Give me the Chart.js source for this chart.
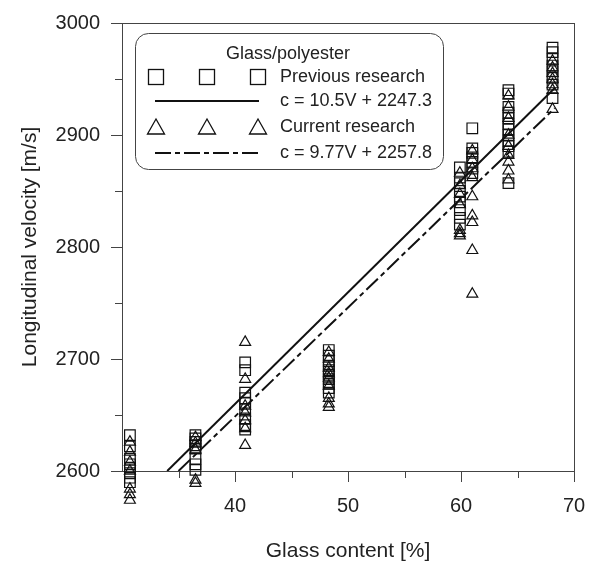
<!DOCTYPE html>
<html>
<head>
<meta charset="utf-8">
<script src="https://cdn.jsdelivr.net/npm/chart.js@4.4.1/dist/chart.umd.min.js"></script>
<style>
  html, body { margin: 0; padding: 0; background: #fff; }
  #wrap { width: 598px; height: 562px; position: relative; }
</style>
</head>
<body>
<div id="wrap"><canvas id="myChart"></canvas></div>
<script>
// glass content of each batch [%]
const clusterX = [30.7, 36.5, 40.9, 48.3, 59.9, 61.0, 64.2, 68.1];

// previous research, velocities per batch [m/s]
const prevVelocity = [
    [2632, 2622, 2611, 2606, 2603, 2598, 2594, 2590],
    [2632, 2629, 2626, 2623, 2620, 2611, 2606, 2601],
    [2697, 2690, 2670, 2665, 2661, 2655, 2647, 2641, 2637],
    [2708, 2703, 2698, 2694, 2690, 2686, 2682, 2678, 2674, 2670],
    [2871, 2862, 2857, 2850, 2845, 2840, 2833, 2826, 2820],
    [2906, 2888, 2884, 2880, 2876, 2870, 2866],
    [2940, 2937, 2925, 2920, 2915, 2910, 2905, 2900, 2895, 2890, 2885, 2857],
    [2978, 2974, 2968, 2962, 2957, 2951, 2945, 2933]
];

// current research
const currVelocity = [
    [2626, 2617, 2608, 2600, 2584, 2579, 2574],
    [2630, 2625, 2619, 2592, 2589],
    [2715, 2682, 2658, 2652, 2645, 2638, 2623],
    [2706, 2700, 2692, 2687, 2683, 2676, 2665, 2660, 2657],
    [2866, 2855, 2847, 2838, 2815, 2812, 2810],
    [2886, 2878, 2870, 2862, 2845, 2828, 2822, 2797, 2758],
    [2935, 2925, 2915, 2900, 2890, 2882, 2876, 2868, 2860],
    [2966, 2960, 2955, 2950, 2945, 2940, 2923]
];

// fitted lines as drawn (end points)
const prevFitX = [34.0, 68.3];
const prevFitY = [2600, 2942];
const currFitX = [35.0, 68.3];
const currFitY = [2600, 2924];

const xTicks = [30, 40, 50, 60, 70];
const yTicks = [2600, 2700, 2800, 2900, 3000];

const legendTitle = 'Glass/polyester';
const legendLabels = ['Previous research', 'c = 10.5V + 2247.3', 'Current research', 'c = 9.77V + 2257.8'];

const FONT = "'Liberation Sans', Arial, sans-serif";
const INK = '#222';

function toPoints(xs, groups) {
    let pts = [];
    groups.forEach(function(g, i) {
        g.forEach(function(v) { pts.push({x: xs[i], y: v}); });
    });
    return pts;
}

function pairPoints(xs, ys) {
    return xs.map(function(x, i) { return {x: x, y: ys[i]}; });
}

// box, minor ticks; also lets the markers below 2600 show
let savedArea = null;
const framePlugin = {
    id: 'frame',
    beforeDatasetsDraw(chart) {
        const ctx = chart.ctx;
        const a = chart.chartArea;
        ctx.save();
        ctx.strokeStyle = '#444';
        ctx.lineWidth = 1;
        ctx.strokeRect(Math.round(a.left) + 0.5, Math.round(a.top) + 0.5,
            Math.round(a.right - a.left), Math.round(a.bottom - a.top));

        const xs = chart.scales.x, ys = chart.scales.y;
        ctx.beginPath();
        for (let v = xs.min + 5; v < xs.max; v += 10) {
            const px = Math.round(xs.getPixelForValue(v)) + 0.5;
            ctx.moveTo(px, a.bottom);
            ctx.lineTo(px, a.bottom + 7);
        }
        for (let v = ys.min + 50; v < ys.max; v += 100) {
            const py = Math.round(ys.getPixelForValue(v)) + 0.5;
            ctx.moveTo(a.left - 7, py);
            ctx.lineTo(a.left, py);
        }
        ctx.stroke();
        ctx.restore();

        savedArea = chart.chartArea;
        chart.chartArea = Object.assign({}, a, { bottom: a.bottom + 45, height: a.height + 45 });
    },
    afterDatasetsDraw(chart) {
        if (savedArea) {
            chart.chartArea = savedArea;
            savedArea = null;
        }
    }
};

// the rounded legend box inside the plot
const legendPlugin = {
    id: 'boxLegend',
    afterDraw(chart) {
        const ctx = chart.ctx;
        ctx.save();
        const bx = 135.5, by = 33.5, bw = 308, bh = 136, r = 13;
        ctx.beginPath();
        ctx.moveTo(bx + r, by);
        ctx.arcTo(bx + bw, by, bx + bw, by + bh, r);
        ctx.arcTo(bx + bw, by + bh, bx, by + bh, r);
        ctx.arcTo(bx, by + bh, bx, by, r);
        ctx.arcTo(bx, by, bx + bw, by, r);
        ctx.closePath();
        ctx.fillStyle = '#fff';
        ctx.fill();
        ctx.strokeStyle = '#444';
        ctx.lineWidth = 1;
        ctx.stroke();

        ctx.fillStyle = INK;
        ctx.font = '18px ' + FONT;
        ctx.textBaseline = 'middle';
        ctx.textAlign = 'center';
        ctx.fillText(legendTitle, 288, 54);
        ctx.textAlign = 'left';
        const rows = [77, 101, 127, 153];
        rows.forEach(function(y, i) { ctx.fillText(legendLabels[i], 280, y); });

        ctx.strokeStyle = '#111';
        ctx.lineWidth = 1.3;
        [156, 207, 258].forEach(function(cx) {
            ctx.strokeRect(cx - 7.5, rows[0] - 7.5, 15, 15);
            ctx.beginPath();
            ctx.moveTo(cx, rows[2] - 8);
            ctx.lineTo(cx + 8.5, rows[2] + 7);
            ctx.lineTo(cx - 8.5, rows[2] + 7);
            ctx.closePath();
            ctx.stroke();
        });

        ctx.lineWidth = 2;
        ctx.beginPath();
        ctx.moveTo(155, rows[1]);
        ctx.lineTo(259, rows[1]);
        ctx.stroke();
        ctx.setLineDash([16, 4, 5, 4]);
        ctx.beginPath();
        ctx.moveTo(155, rows[3]);
        ctx.lineTo(259, rows[3]);
        ctx.stroke();
        ctx.restore();
    }
};

const ctx = document.getElementById('myChart').getContext('2d');

const myChart = new Chart(ctx, {
    type: 'scatter',
    data: {
        datasets: [
            {
                label: 'Previous research',
                data: toPoints(clusterX, prevVelocity),
                pointStyle: 'rect',
                pointRadius: 7.5,
                borderColor: '#111',
                backgroundColor: 'rgba(0,0,0,0)',
                pointBorderWidth: 1.2,
                clip: false
            },
            {
                label: 'Current research',
                data: toPoints(clusterX, currVelocity),
                pointStyle: 'triangle',
                pointRadius: 6.3,
                borderColor: '#111',
                backgroundColor: 'rgba(0,0,0,0)',
                pointBorderWidth: 1.2,
                clip: false
            },
            {
                label: 'c = 10.5V + 2247.3',
                data: pairPoints(prevFitX, prevFitY),
                showLine: true,
                borderColor: '#111',
                borderWidth: 2,
                pointRadius: 0
            },
            {
                label: 'c = 9.77V + 2257.8',
                data: pairPoints(currFitX, currFitY),
                showLine: true,
                borderColor: '#111',
                borderWidth: 2,
                borderDash: [16, 4, 5, 4],
                pointRadius: 0
            }
        ]
    },
    options: {
        responsive: true,
        maintainAspectRatio: false,
        animation: false,
        layout: { padding: { top: 21, right: 24, bottom: 0, left: 0 } },
        plugins: {
            legend: { display: false },
            tooltip: { enabled: false }
        },
        scales: {
            x: {
                type: 'linear',
                min: xTicks[0],
                max: xTicks[xTicks.length - 1],
                afterFit: function(scale) { scale.height = 91; },
                afterBuildTicks: function(scale) {
                    scale.ticks = xTicks.map(function(v) { return {value: v}; });
                },
                border: { display: false },
                grid: {
                    drawOnChartArea: false,
                    tickLength: 11,
                    tickColor: function(c) { return c.tick && c.tick.value === xTicks[0] ? 'rgba(0,0,0,0)' : '#444'; }
                },
                ticks: {
                    color: INK,
                    padding: 12,
                    font: { family: FONT, size: 20 },
                    callback: function(v) { return v === xTicks[0] ? '' : String(v); }
                },
                title: {
                    display: true,
                    text: 'Glass content [%]',
                    color: INK,
                    font: { family: FONT, size: 21 },
                    padding: { top: 0, bottom: -2 }
                }
            },
            y: {
                type: 'linear',
                min: yTicks[0],
                max: yTicks[yTicks.length - 1],
                afterFit: function(scale) { scale.width = 122; },
                afterBuildTicks: function(scale) {
                    scale.ticks = yTicks.map(function(v) { return {value: v}; });
                },
                border: { display: false },
                grid: {
                    drawOnChartArea: false,
                    tickLength: 11,
                    tickColor: '#444'
                },
                ticks: {
                    color: INK,
                    padding: 11,
                    font: { family: FONT, size: 20 },
                    callback: function(v) { return String(v); }
                },
                title: {
                    display: true,
                    text: 'Longitudinal velocity [m/s]',
                    color: INK,
                    font: { family: FONT, size: 21 },
                    padding: { top: 18, bottom: 0 }
                }
            }
        }
    },
    plugins: [framePlugin, legendPlugin]
});
</script>
</body>
</html>
